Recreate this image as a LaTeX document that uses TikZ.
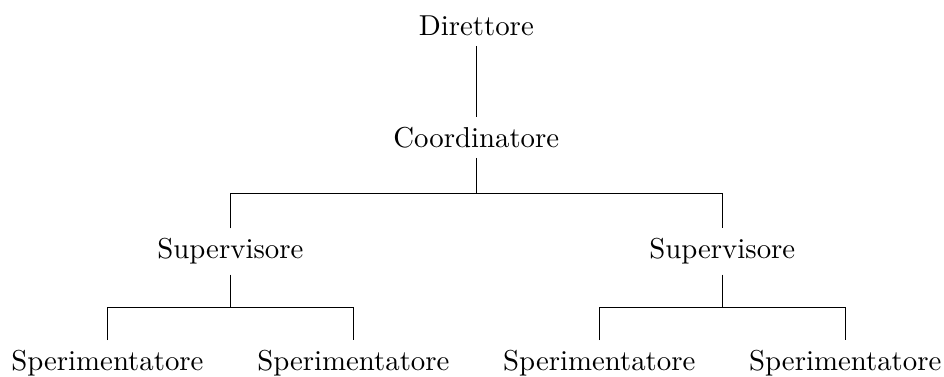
\documentclass[tikz,border=0pt]{standalone}
\begin{document}
\begin{tikzpicture}[line join=miter,font=\normalsize,x=1pt,y=1pt,
    ruolo/.style={anchor=base}]
  \useasboundingbox (0,0) rectangle (327.8,-130.6);
  \node[ruolo] (dir) at (165.4,-12.3) {Direttore};
  \node[ruolo] (coo) at (165.4,-51.1) {Coordinatore};
  \node[ruolo] (supa) at (80.0,-89.9) {Supervisore};
  \node[ruolo] (supb) at (250.8,-89.9) {Supervisore};
  \node[ruolo] (spa) at (37.3,-128.7) {Sperimentatore};
  \node[ruolo] (spb) at (122.7,-128.7) {Sperimentatore};
  \node[ruolo] (spc) at (208.1,-128.7) {Sperimentatore};
  \node[ruolo] (spd) at (293.5,-128.7) {Sperimentatore};
  \coordinate (k0) at (165.4,-67.2);
  \coordinate (ka) at (80.0,-106.8);
  \coordinate (kb) at (250.8,-106.8);
  \draw (dir)--(coo);
  \draw (coo.south)--(k0);
  \draw (supa.north) |- (k0) -| (supb.north);
  \draw (supa.south)--(ka);
  \draw (spa.north) |- (ka) -| (spb.north);
  \draw (supb.south)--(kb);
  \draw (spc.north) |- (kb) -| (spd.north);
\end{tikzpicture}
\end{document}
